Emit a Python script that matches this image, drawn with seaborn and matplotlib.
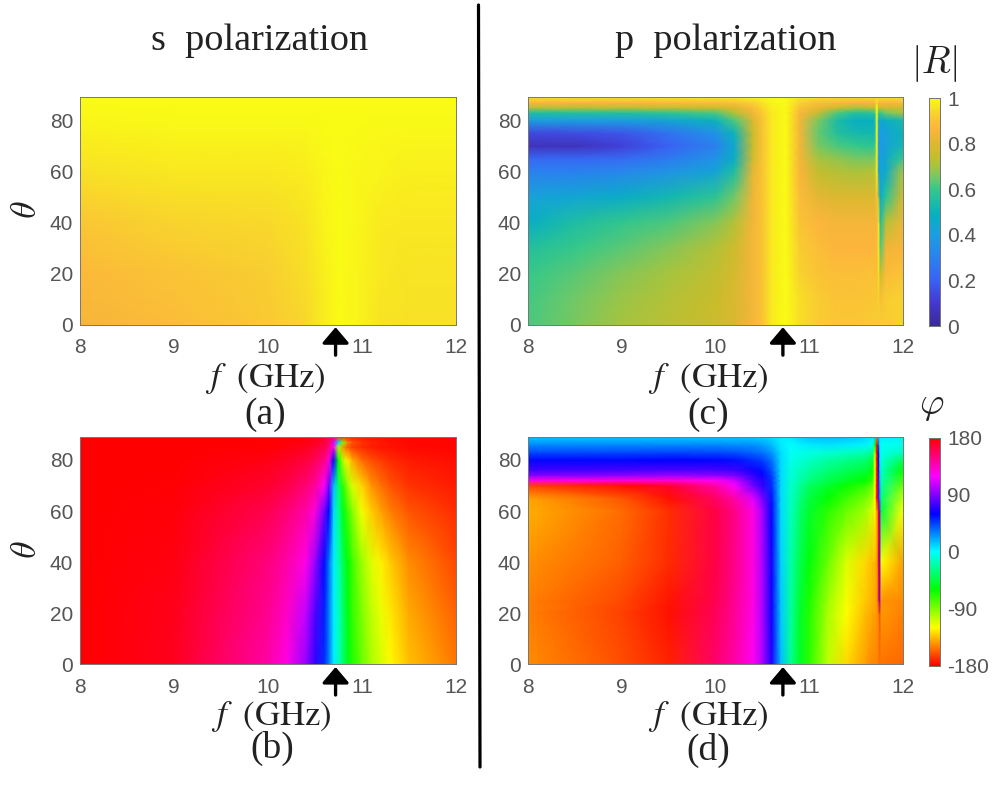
import matplotlib
matplotlib.use("Agg")
import matplotlib.pyplot as plt
import numpy as np
import pandas as pd
import seaborn as sns
from matplotlib.colors import LinearSegmentedColormap
from matplotlib.lines import Line2D

#%% values

# (a) s polarization, |R|
f_a = [8, 9, 10, 10.4, 10.6, 10.75, 10.95, 11.2, 11.5, 12]
theta_a = [0, 20, 40, 60, 80, 89]
R_s = [
    [.855, .885, .915, .94, .975, 1.0, .985, .96, .955, .955],
    [.875, .90, .925, .95, .98, 1.0, .985, .965, .96, .96],
    [.91, .935, .945, .96, .985, 1.0, .99, .97, .965, .965],
    [.955, .965, .965, .975, .99, 1.0, .99, .985, .98, .98],
    [.99, .995, .995, .995, .998, 1.0, .998, .995, .995, .995],
    [.999, .999, .999, .999, 1.0, 1.0, 1.0, .999, .999, .999],
]

# (b) s polarization, phase
f_b = [8, 9, 10, 10.2, 10.4, 10.5, 10.6, 10.65, 10.7, 10.75, 10.8, 10.85, 10.9, 11, 11.1, 11.2, 11.3, 11.5, 12]
theta_b = [0, 20, 40, 60, 70, 80, 85, 87, 89]
phase_s = [
    [180, 172, 140, 125, 95, 72, 50, 30, 5, -15, -35, -55, -68, -85, -100, -110, -121, -135, -152],
    [180, 173, 145, 132, 105, 78, 52, 30, 5, -15, -35, -57, -72, -90, -105, -115, -125, -140, -157],
    [180, 175, 150, 140, 125, 95, 57, 32, 5, -18, -40, -60, -75, -97, -112, -123, -132, -147, -163],
    [180, 177, 160, 152, 140, 127, 85, 58, 8, -25, -55, -75, -92, -118, -132, -142, -150, -160, -170],
    [180, 178, 168, 162, 152, 143, 120, 85, 15, -35, -70, -95, -112, -130, -145, -153, -160, -168, -174],
    [180, 179, 174, 170, 165, 158, 148, 130, 60, -60, -105, -125, -140, -155, -162, -166, -170, -174, -177],
    [180, 180, 178, 176, 172, 168, 160, 150, 120, -100, -145, -158, -165, -170, -173, -175, -176, -178, -179],
    [180, 180, 178, 177, 175, 172, 165, 155, 110, 10, -90, -150, -160, -168, -172, -174, -176, -178, -179],
    [180, 180, 178, 177, 175, 173, 170, 165, 150, -165, -170, -172, -174, -175, -176, -177, -178, -179, -179],
]

# (c) p polarization, |R|
f_c = [8, 8.5, 9, 9.5, 10, 10.2, 10.4, 10.5, 10.6, 10.75, 10.9, 11.1, 11.3, 11.5, 11.7, 11.725, 11.745, 11.76, 11.82, 12]
theta_c = [0, 10, 20, 30, 40, 50, 60, 65, 70, 75, 80, 83, 85, 87, 89]
R_p = [
    [.62, .66, .70, .73, .76, .79, .85, .90, .97, 1.0, .95, .92, .91, .91, .92, .92, .92, .92, .92, .93],
    [.61, .65, .69, .72, .75, .79, .85, .90, .97, 1.0, .95, .92, .90, .90, .91, .91, .93, .89, .92, .93],
    [.60, .63, .67, .70, .74, .78, .85, .90, .97, 1.0, .93, .90, .89, .89, .90, .89, .96, .75, .88, .90],
    [.56, .60, .63, .67, .72, .76, .85, .90, .97, 1.0, .92, .89, .87, .87, .87, .88, .98, .62, .84, .86],
    [.48, .55, .59, .62, .67, .72, .85, .90, .97, 1.0, .90, .87, .85, .85, .85, .86, .98, .55, .72, .83],
    [.42, .44, .47, .52, .58, .65, .84, .90, .97, 1.0, .88, .82, .80, .80, .80, .90, .70, .45, .58, .78],
    [.30, .30, .32, .36, .43, .55, .82, .90, .97, 1.0, .86, .74, .72, .71, .72, .98, .42, .42, .46, .70],
    [.22, .22, .23, .28, .36, .48, .78, .90, .97, 1.0, .85, .70, .68, .66, .66, .98, .40, .40, .45, .60],
    [.07, .07, .12, .20, .30, .45, .75, .90, .97, 1.0, .85, .66, .62, .60, .58, .99, .38, .38, .42, .52],
    [.14, .15, .17, .25, .36, .50, .76, .90, .97, 1.0, .85, .64, .56, .53, .52, .99, .40, .40, .42, .50],
    [.40, .40, .40, .43, .50, .62, .80, .90, .97, 1.0, .85, .66, .54, .48, .49, .99, .45, .45, .48, .53],
    [.55, .56, .56, .58, .62, .72, .85, .92, .97, 1.0, .87, .74, .62, .56, .58, .99, .60, .60, .65, .70],
    [.72, .72, .73, .74, .76, .80, .88, .94, .98, 1.0, .90, .83, .75, .70, .74, 1.0, .75, .75, .76, .76],
    [.87, .87, .87, .88, .89, .90, .93, .96, .99, 1.0, .93, .89, .88, .87, .87, .95, .87, .87, .87, .88],
    [.95, .95, .95, .96, .96, .96, .98, .99, 1.0, 1.0, .96, .95, .94, .94, .94, .96, .95, .95, .95, .95],
]

# (d) p polarization, phase
f_d = [8, 9, 9.5, 10, 10.2, 10.4, 10.5, 10.6, 10.7, 10.8, 10.9, 11, 11.2, 11.4, 11.6, 11.68, 11.705, 11.725, 11.745, 11.757, 11.77, 12]
theta_d = [0, 20, 25, 40, 60, 65, 70, 72, 74, 76, 80, 83, 86, 89]
phase_p = [
    [-147, -162, -172, 154, 140, 122, 100, 66, 15, -25, -52, -70, -105, -128, -143, -149, -150, -150, -151, -152, -153, -156],
    [-150, -165, -176, 158, 144, 125, 100, 62, 12, -22, -50, -68, -100, -120, -136, -141, -142, -143, -150, -165, -144, -150],
    [-150, -163, -175, 160, 145, 126, 100, 62, 12, -22, -48, -65, -97, -118, -133, -139, -140, -143, -175, 85, -145, -148],
    [-146, -158, -170, 162, 147, 127, 100, 62, 10, -20, -42, -58, -85, -112, -128, -136, -138, -142, 180, 85, -120, -142],
    [-139, -154, -169, 162, 148, 125, 98, 58, 8, -15, -35, -50, -70, -85, -98, -112, -120, -140, 180, 85, -45, -118],
    [-142, -160, -176, 156, 140, 112, 88, 55, 8, -14, -30, -45, -60, -75, -88, -100, -120, 180, 85, 25, -35, -105],
    [-165, -177, 168, 140, 118, 85, 72, 50, 8, -12, -25, -38, -50, -62, -72, -85, -120, 180, 80, 20, -25, -85],
    [125, 128, 130, 122, 108, 78, 68, 48, 8, -10, -20, -30, -42, -52, -60, -72, -120, 180, 75, 15, -20, -75],
    [90, 92, 95, 92, 88, 72, 62, 45, 8, -9, -18, -26, -38, -46, -54, -66, -120, 180, 70, 12, -18, -68],
    [75, 76, 78, 77, 74, 64, 56, 40, 8, -8, -16, -22, -32, -40, -46, -58, -120, 180, 65, 10, -15, -60],
    [58, 58, 59, 58, 56, 50, 45, 33, 8, -5, -10, -14, -22, -28, -34, -45, -120, 180, 60, 5, -10, -40],
    [42, 42, 43, 42, 40, 36, 32, 24, 7, -3, -5, -7, -10, -14, -18, -25, -100, 180, 60, 5, -5, -15],
    [28, 28, 28, 28, 27, 25, 22, 16, 5, 0, 2, 4, 6, 5, 2, -5, -60, 180, 40, 5, -3, -5],
    [12, 12, 12, 12, 12, 11, 10, 8, 3, 5, 10, 14, 15, 14, 10, 5, 10, -150, 15, 5, 3, 3],
]

f_ticks = [8, 9, 10, 11, 12]
theta_ticks = [0, 20, 40, 60, 80]
R_ticks = [0, 0.2, 0.4, 0.6, 0.8, 1]
R_tick_labels = ["0", "0.2", "0.4", "0.6", "0.8", "1"]
phase_ticks = [-180, -90, 0, 90, 180]
phase_tick_labels = ["-180", "-90", "0", "90", "180"]

parula_stops = [0, .1, .2, .3, .4, .49, .6, .65, .7, .75, .8, .87, .93, 1]
parula = ["#3b2a96", "#4338d0", "#3a62f5", "#2a82ee", "#1c9ee0", "#06b0c0", "#35c88a",
          "#70c868", "#a5c440", "#c8bd2c", "#dcb830", "#fdb53c", "#f8d030", "#f9fb15"]
hue_wheel = ["#ff0000", "#ffff00", "#00ff00", "#00ffff", "#0000ff", "#ff00ff", "#ff0000"]

#%%

W, H = 997, 794
sns.set_theme(style="white")
plt.rcParams["font.family"] = ["Liberation Sans", "DejaVu Sans"]
plt.rcParams["mathtext.fontset"] = "stix"

cmap_R = LinearSegmentedColormap.from_list("parula", list(zip(parula_stops, parula)), N=256)
cmap_phase = LinearSegmentedColormap.from_list("wheel", hue_wheel, N=360)

fig = plt.figure(figsize=(W / 100, H / 100), dpi=100)


def px_axes(left, top, right, bottom):
    return fig.add_axes([left / W, 1 - bottom / H, (right - left) / W, (bottom - top) / H])


def label(x, y, s, size=27, **kw):
    fig.text(x / W, 1 - y / H, s, fontsize=size, ha="center", va="center", color="#222222", **kw)


def panel(box, f, theta, values, cmap, vmin, vmax, cbar_box=None):
    ax = px_axes(*box)
    df = pd.DataFrame(values, index=theta, columns=f)
    cax = px_axes(*cbar_box) if cbar_box else None
    sns.heatmap(df, ax=ax, cmap=cmap, vmin=vmin, vmax=vmax, shading="gouraud",
                cbar=cbar_box is not None, cbar_ax=cax, xticklabels=False, yticklabels=False)
    # the grid is uneven, so the axes scales put the columns and rows at their real f and theta
    ix, iy = np.arange(len(f)), np.arange(len(theta))
    ax.set_xscale("function", functions=(lambda v: np.interp(v, ix, f), lambda v: np.interp(v, f, ix)))
    ax.set_yscale("function", functions=(lambda v: np.interp(v, iy, theta), lambda v: np.interp(v, theta, iy)))
    ax.set_xlim(0, len(f) - 1)
    ax.set_ylim(0, len(theta) - 1)
    ax.set_xticks(np.interp(f_ticks, f, ix), [str(t) for t in f_ticks])
    ax.set_yticks(np.interp(theta_ticks, theta, iy), [str(t) for t in theta_ticks])
    ax.minorticks_off()
    ax.set_xlabel("")
    ax.set_ylabel("")
    for spine in ax.spines.values():
        spine.set_visible(True)
        spine.set_linewidth(0.7)
        spine.set_color("#777777")
    ax.tick_params(direction="in", length=3, width=0.7, color="#555555", labelcolor="#555555",
                   labelsize=15, top=True, right=True, bottom=True, left=True)
    ax.tick_params(axis="x", pad=10)
    ax.tick_params(axis="y", pad=5)
    # arrow under the axis at the resonance
    ax.annotate("", xy=(0.68, -0.012), xytext=(0.68, -0.135), xycoords="axes fraction",
                textcoords="axes fraction",
                arrowprops=dict(arrowstyle="-|>,head_width=0.34,head_length=0.4", color="black",
                                lw=2.4, mutation_scale=24, shrinkA=0, shrinkB=0))
    return ax, cax


panel((80.3, 97.5, 455.7, 324.5), f_a, theta_a, R_s, cmap_R, 0, 1)
panel((80.3, 437, 455.7, 664.3), f_b, theta_b, phase_s, cmap_phase, -180, 180)
_, cax_R = panel((528.3, 97.5, 902.7, 324.5), f_c, theta_c, R_p, cmap_R, 0, 1,
                 cbar_box=(928.5, 98, 940, 326))
_, cax_phase = panel((528.3, 437, 902.7, 664.3), f_d, theta_d, phase_p, cmap_phase, -180, 180,
                     cbar_box=(928.5, 437.7, 940, 665.7))

for cax, ticks, names in [(cax_R, R_ticks, R_tick_labels), (cax_phase, phase_ticks, phase_tick_labels)]:
    cax.set_yticks(ticks, names)
    cax.tick_params(direction="in", length=3, width=0.7, color="#555555", labelcolor="#555555",
                    labelsize=15, pad=5, right=True, left=False)
    for spine in cax.spines.values():
        spine.set_visible(True)
        spine.set_linewidth(0.7)
        spine.set_color("#777777")

#%% text

label(260, 41, "s  polarization", size=27.5, family="Liberation Serif")
label(726, 41, "p  polarization", size=27.5, family="Liberation Serif")
label(934, 63, r"$|R|$", size=27, math_fontfamily="cm")
label(932, 405, r"$\varphi$", size=27, math_fontfamily="cm")
label(27, 210, r"$\theta$", size=26, rotation=90, math_fontfamily="cm")
label(27, 550, r"$\theta$", size=26, rotation=90, math_fontfamily="cm")
label(265, 378, r"$f\ \ \mathrm{(GHz)}$", size=25)
label(708, 378, r"$f\ \ \mathrm{(GHz)}$", size=25)
label(271, 717, r"$f\ \ \mathrm{(GHz)}$", size=25)
label(708, 717, r"$f\ \ \mathrm{(GHz)}$", size=25)
label(265, 415, "(a)", family="Liberation Serif")
label(272, 748, "(b)", family="Liberation Serif")
label(708, 415, "(c)", family="Liberation Serif")
label(708, 750, "(d)", family="Liberation Serif")

# divider between the two polarizations
fig.add_artist(Line2D([478.5 / W, 480 / W], [1 - 5 / H, 1 - 767 / H], color="black", lw=2.3,
                      transform=fig.transFigure))

fig.savefig("out.png", dpi=100, facecolor="white")
